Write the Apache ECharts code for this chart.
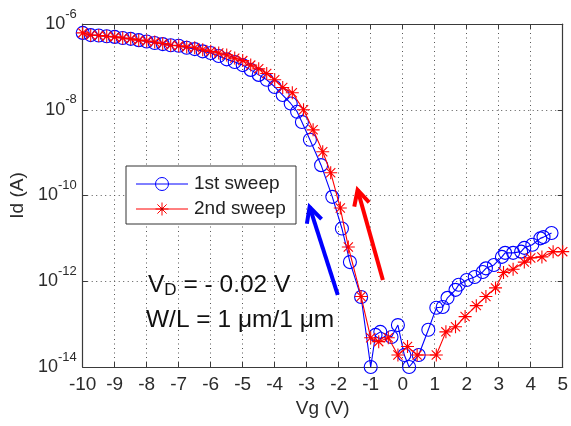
<!DOCTYPE html>
<html>
<head>
<meta charset="utf-8">
<script src="https://cdn.jsdelivr.net/npm/echarts@6/dist/echarts.min.js"></script>
<style>
  html, body { margin: 0; padding: 0; background: #ffffff; }
  #chart { width: 571px; height: 426px; }
</style>
</head>
<body>
<div id="chart"></div>
<script>
// Gate sweep measurements: drain current Id (A) versus gate voltage Vg (V)
const vg1 = [-10, -9.75, -9.5, -9.25, -9, -8.75, -8.5, -8.25, -8, -7.75,
             -7.5, -7.25, -7, -6.75, -6.5, -6.25, -6, -5.75, -5.5, -5.25,
             -5, -4.75, -4.5, -4.25, -4, -3.75, -3.5, -3.3, -3.15, -2.9,
             -2.55, -2.2, -1.9, -1.65, -1.3, -1.0, -0.85, -0.7, -0.35, -0.15,
             0.05, 0.2, 0.5, 0.8, 1.05, 1.25, 1.4, 1.65, 1.75, 2.0,
             2.25, 2.5, 2.6, 2.85, 3.1, 3.2, 3.45, 3.7, 3.8, 4.05,
             4.3, 4.4, 4.65];
const id1 = [6.2e-7, 5.5e-7, 5.4e-7, 5.2e-7, 5.0e-7, 4.7e-7, 4.5e-7, 4.2e-7, 3.9e-7, 3.6e-7,
             3.4e-7, 3.2e-7, 3.1e-7, 2.8e-7, 2.6e-7, 2.3e-7, 2.1e-7, 1.8e-7, 1.5e-7, 1.3e-7,
             1.1e-7, 8.5e-8, 6.5e-8, 5.0e-8, 3.4e-8, 2.2e-8, 1.4e-8, 9.0e-9, 5.2e-9, 2.0e-9,
             5.1e-10, 9.3e-11, 1.7e-11, 2.8e-12, 4.3e-13, 1.0e-14, 5.6e-14, 6.6e-14, 5.0e-14, 9.5e-14,
             1.9e-14, 1.0e-14, 1.9e-14, 7.4e-14, 2.4e-13, 2.5e-13, 4.1e-13, 6.3e-13, 8.3e-13, 1.07e-12,
             1.26e-12, 1.65e-12, 2.0e-12, 2.4e-12, 3.7e-12, 4.6e-12, 4.6e-12, 4.9e-12, 6.0e-12, 7.1e-12,
             1.0e-11, 1.07e-11, 1.34e-11];

const vg2 = [-10, -9.75, -9.5, -9.25, -9, -8.75, -8.5, -8.25, -8, -7.75,
             -7.5, -7.25, -7, -6.75, -6.5, -6.25, -6, -5.75, -5.5, -5.25,
             -5, -4.75, -4.5, -4.25, -4, -3.75, -3.45, -3.1, -2.8, -2.5,
             -2.25, -1.95, -1.7, -1.3, -1.0, -0.75, -0.45, -0.15, 0.15, 0.45,
             1.05, 1.35, 1.65, 1.95, 2.3, 2.6, 2.9, 3.15, 3.45, 3.8,
             4.0, 4.35, 4.7, 5.0];
const id2 = [6.2e-7, 5.5e-7, 5.4e-7, 5.2e-7, 5.0e-7, 4.7e-7, 4.5e-7, 4.2e-7, 4.0e-7, 3.8e-7,
             3.5e-7, 3.2e-7, 3.1e-7, 2.9e-7, 2.8e-7, 2.5e-7, 2.3e-7, 2.1e-7, 1.9e-7, 1.6e-7,
             1.4e-7, 1.1e-7, 9.0e-8, 7.0e-8, 5.0e-8, 3.3e-8, 2.5e-8, 1.0e-8, 3.4e-9, 1.05e-9,
             3.4e-10, 5.1e-11, 6.3e-12, 4.4e-13, 4.8e-14, 3.9e-14, 4.8e-14, 1.9e-14, 3.0e-14, 1.9e-14,
             1.9e-14, 6.6e-14, 8.7e-14, 1.5e-13, 2.7e-13, 4.4e-13, 7.0e-13, 1.6e-12, 1.9e-12, 2.8e-12,
             3.5e-12, 3.7e-12, 4.9e-12, 4.9e-12];

const seriesNames = ['1st sweep', '2nd sweep'];
const xRange = [-10, 5];
const yRange = [1e-14, 1e-6];

const FONT = "'Liberation Sans', Arial, sans-serif";
const TEXT = '#2b2b2b';
const AXIS = '#3a3a3a';
const BLUE = '#0000ff';
const RED = '#ff0000';
// eight-armed asterisk marker
const STAR = 'path://M0,5L10,5M5,0L5,10M1.46,1.46L8.54,8.54M1.46,8.54L8.54,1.46';

const zip = (xs, ys) => xs.map((x, i) => [x, ys[i]]);

const chart = echarts.init(document.getElementById('chart'), null, { renderer: 'canvas' });

const dotted = { show: true, lineStyle: { color: '#555', width: 1, type: [1, 3.5] } };

const option = {
  animation: false,
  backgroundColor: '#ffffff',
  grid: { left: 76, right: 4, top: 24, bottom: 59, containLabel: false },
  xAxis: [
    {
      type: 'value', min: xRange[0], max: xRange[1], interval: 1,
      name: 'Vg (V)', nameLocation: 'middle', nameGap: 30,
      nameTextStyle: { fontFamily: FONT, fontSize: 19, color: TEXT },
      axisLine: { show: true, onZero: false, lineStyle: { color: AXIS, width: 1.2 } },
      axisTick: { show: true, inside: true, length: 5, lineStyle: { color: AXIS } },
      axisLabel: { fontFamily: FONT, fontSize: 19, color: TEXT, margin: 8 },
      splitLine: dotted
    },
    {
      type: 'value', min: xRange[0], max: xRange[1], interval: 1, position: 'top',
      axisLine: { show: true, onZero: false, lineStyle: { color: AXIS, width: 1.2 } },
      axisTick: { show: true, inside: true, length: 5, lineStyle: { color: AXIS } },
      axisLabel: { show: false }, splitLine: { show: false }
    }
  ],
  yAxis: [
    {
      type: 'log', logBase: 10, min: yRange[0], max: yRange[1], interval: 2,
      name: 'Id (A)', nameLocation: 'middle', nameGap: 50,
      nameTextStyle: { fontFamily: FONT, fontSize: 19, color: TEXT },
      axisLine: { show: true, onZero: false, lineStyle: { color: AXIS, width: 1.2 } },
      axisTick: { show: true, inside: true, length: 5, lineStyle: { color: AXIS } },
      minorTick: { show: false },
      axisLabel: {
        margin: 6,
        formatter: v => '{b|10}{s|' + Math.round(Math.log10(v)) + '}',
        rich: {
          b: { fontFamily: FONT, fontSize: 18, color: TEXT },
          s: { fontFamily: FONT, fontSize: 13, color: TEXT, padding: [0, 0, 20, 0] }
        }
      },
      splitLine: dotted
    },
    {
      type: 'log', logBase: 10, min: yRange[0], max: yRange[1], interval: 2, position: 'right',
      axisLine: { show: true, onZero: false, lineStyle: { color: AXIS, width: 1.2 } },
      axisTick: { show: true, inside: true, length: 5, lineStyle: { color: AXIS } },
      axisLabel: { show: false }, splitLine: { show: false }
    }
  ],
  series: [
    {
      name: seriesNames[0], type: 'line', xAxisIndex: 0, yAxisIndex: 0,
      data: zip(vg1, id1), clip: false, showAllSymbol: true,
      symbol: 'circle', symbolSize: 13,
      lineStyle: { color: BLUE, width: 1.1 },
      itemStyle: { color: 'rgba(0,0,0,0)', borderColor: BLUE, borderWidth: 1.1 },
      z: 2
    },
    {
      name: seriesNames[1], type: 'line', xAxisIndex: 0, yAxisIndex: 0,
      data: zip(vg2, id2), clip: false, showAllSymbol: true,
      symbol: STAR, symbolSize: 13,
      lineStyle: { color: RED, width: 1.1 },
      itemStyle: { color: RED, borderColor: RED, borderWidth: 1.1 },
      z: 3
    }
  ]
};

chart.setOption(option);

// legend box, device annotation and sweep-direction arrows
function arrow(tail, tip, color) {
  const p0 = chart.convertToPixel({ gridIndex: 0 }, tail);
  const p1 = chart.convertToPixel({ gridIndex: 0 }, tip);
  const dx = p0[0] - p1[0], dy = p0[1] - p1[1];
  const L = Math.hypot(dx, dy), ux = dx / L, uy = dy / L;
  const a = 27 * Math.PI / 180, len = 17;
  const arm = t => [p1[0] + len * (ux * Math.cos(t) - uy * Math.sin(t)),
                    p1[1] + len * (ux * Math.sin(t) + uy * Math.cos(t))];
  return [
    { type: 'polyline', z: 20, shape: { points: [p0, p1] }, style: { stroke: color, lineWidth: 4 } },
    { type: 'polyline', z: 20, shape: { points: [arm(a), p1, arm(-a)] },
      style: { stroke: color, lineWidth: 4, fill: null, lineJoin: 'miter' } }
  ];
}

// asterisk drawn from four strokes through its centre
function legendStar(cx, cy, r, color) {
  const d = r * Math.SQRT1_2;
  return [[-r, 0, r, 0], [0, -r, 0, r], [-d, -d, d, d], [-d, d, d, -d]].map(s => ({
    type: 'line', z: 11,
    shape: { x1: cx + s[0], y1: cy + s[1], x2: cx + s[2], y2: cy + s[3] },
    style: { stroke: color, lineWidth: 1 }
  }));
}

const graphics = [
  { type: 'rect', z: 10, shape: { x: 126, y: 166, width: 170, height: 58 },
    style: { fill: '#ffffff', stroke: '#333', lineWidth: 1 } },
  { type: 'line', z: 11, shape: { x1: 136, y1: 184, x2: 188, y2: 184 }, style: { stroke: BLUE, lineWidth: 1 } },
  { type: 'circle', z: 11, shape: { cx: 162, cy: 184, r: 6.5 }, style: { fill: null, stroke: BLUE, lineWidth: 1 } },
  { type: 'text', z: 11, x: 194, y: 184,
    style: { text: seriesNames[0], font: '19px ' + FONT, fill: '#222', verticalAlign: 'middle' } },
  { type: 'line', z: 11, shape: { x1: 136, y1: 209, x2: 188, y2: 209 }, style: { stroke: RED, lineWidth: 1 } },
  { type: 'circle', z: 12, shape: { cx: 162, cy: 209, r: 1.5 }, style: { fill: '#b00000', stroke: null } },
  { type: 'text', z: 11, x: 194, y: 209,
    style: { text: seriesNames[1], font: '19px ' + FONT, fill: '#222', verticalAlign: 'middle' } },
  { type: 'text', z: 11, x: 148, y: 285,
    style: {
      text: '{v|V}{d|D}{v| = - 0.02 V}', verticalAlign: 'middle',
      rich: {
        v: { fontFamily: FONT, fontSize: 24.5, fill: '#111' },
        d: { fontFamily: FONT, fontSize: 17, fill: '#111', padding: [10, 0, 0, 0] }
      }
    } },
  { type: 'text', z: 11, x: 146, y: 320,
    style: { text: 'W/L = 1 \u03bcm/1 \u03bcm', font: '24.5px ' + FONT, fill: '#111', verticalAlign: 'middle' } }
].concat(
  legendStar(162, 209, 6.5, RED),
  arrow([-2.03, 4.8e-13], [-2.91, 5.4e-11], BLUE),
  arrow([-0.62, 1.07e-12], [-1.41, 1.35e-10], RED)
);

chart.setOption({ graphic: graphics });
</script>
</body>
</html>
